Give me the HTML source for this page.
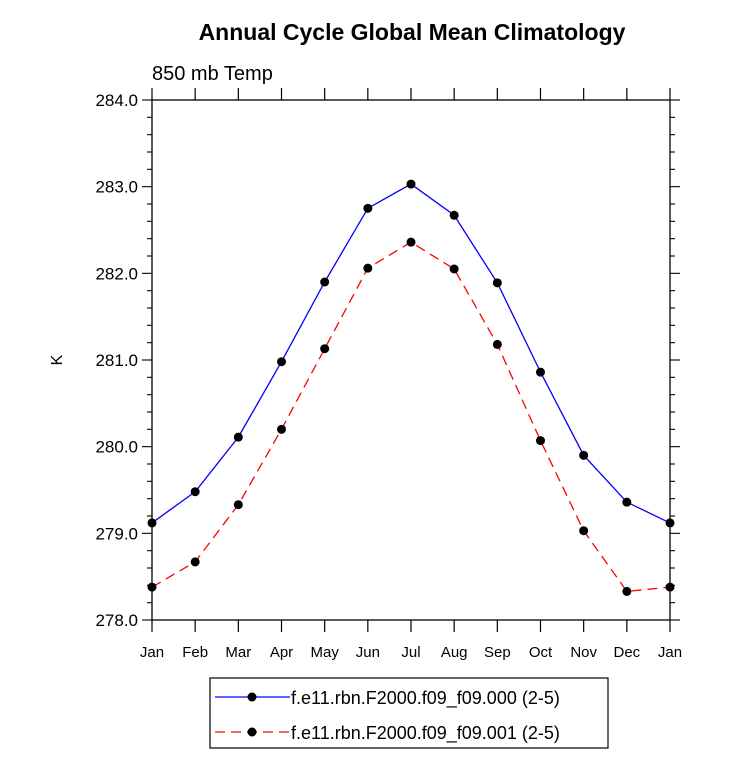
<!DOCTYPE html>
<html><head><meta charset="utf-8"><style>body{margin:0;background:#fff}svg text{font-family:"Liberation Sans",sans-serif}</style></head>
<body>
<svg id="c" width="733" height="770" xmlns="http://www.w3.org/2000/svg">
<text x="412" y="40" text-anchor="middle" font-size="23" font-weight="bold">Annual Cycle Global Mean Climatology</text>
<text x="152" y="80" font-size="20">850 mb Temp</text>
<text x="62" y="360" font-size="16" text-anchor="middle" transform="rotate(-90 62 360)">K</text>
<g id="ax"></g>
<g id="plot"></g>
<rect x="210" y="678" width="398" height="70" fill="none" stroke="#000" stroke-width="1.2"/>
<g>
<line x1="215" y1="697" x2="290" y2="697" stroke="#00f" stroke-width="1.3"/><circle cx="252" cy="697" r="4.5"/>
<text x="291" y="704" font-size="18">f.e11.rbn.F2000.f09_f09.000 (2-5)</text></g>
<g>
<line x1="215" y1="732" x2="290" y2="732" stroke="#f00" stroke-width="1.3" stroke-dasharray="10,6"/><circle cx="252" cy="732" r="4.5"/>
<text x="291" y="739" font-size="18">f.e11.rbn.F2000.f09_f09.001 (2-5)</text></g>
</svg>
<script>
const months=["Jan","Feb","Mar","Apr","May","Jun","Jul","Aug","Sep","Oct","Nov","Dec","Jan"];
const series000=[279.12,279.48,280.11,280.98,281.90,282.75,283.03,282.67,281.89,280.86,279.90,279.36,279.12];
const series001=[278.38,278.67,279.33,280.20,281.13,282.06,282.36,282.05,281.18,280.07,279.03,278.33,278.38];
const yTicks=["278.0","279.0","280.0","281.0","282.0","283.0","284.0"];
const X0=152,X1=670,Y0=100,Y1=620,YMIN=278,YMAX=284;
const xs=i=>X0+(X1-X0)*i/(months.length-1);
const ys=v=>Y1-(v-YMIN)/(YMAX-YMIN)*(Y1-Y0);
const NS="http://www.w3.org/2000/svg";
function mk(t,a,p){const e=document.createElementNS(NS,t);for(const k in a)e.setAttribute(k,a[k]);p.appendChild(e);return e;}
const ax=document.getElementById('ax'),pl=document.getElementById('plot');
const box=mk('rect',{x:X0,y:Y0,width:X1-X0,height:Y1-Y0,fill:'none',stroke:'#000','stroke-width':1.3},ax);


months.forEach((m,i)=>{const x=xs(i);
mk('line',{x1:x,y1:Y1,x2:x,y2:Y1+12,stroke:'#000','stroke-width':1.2},ax);
mk('line',{x1:x,y1:Y0,x2:x,y2:Y0-12,stroke:'#000','stroke-width':1.2},ax);
const t=mk('text',{x:x,y:Y1+37,'text-anchor':'middle','font-size':15},ax);t.textContent=m;

});
for(let k=0;k<=30;k++){const v=YMIN+k*0.2,y=ys(v),maj=k%5==0,L=maj?10:5;
mk('line',{x1:X0-L,y1:y,x2:X0,y2:y,stroke:'#000','stroke-width':1.1},ax);
mk('line',{x1:X1,y1:y,x2:X1+L,y2:y,stroke:'#000','stroke-width':1.1},ax);}
yTicks.forEach(s=>{const t=mk('text',{x:X0-14,y:ys(+s)+6,'text-anchor':'end','font-size':17},ax);t.textContent=s;

});
function draw(d,col,dash,name){
const p=mk('polyline',{points:d.map((v,i)=>xs(i)+','+ys(v)).join(' '),fill:'none',stroke:col,'stroke-width':1.3,'stroke-dasharray':dash},pl);


d.forEach((v,i)=>{const c=mk('circle',{cx:xs(i),cy:ys(v),r:4.5},pl);

});}
draw(series000,'#00f','none','series-000');
draw(series001,'#f00','10,6','series-001');
</script>
</body></html>
